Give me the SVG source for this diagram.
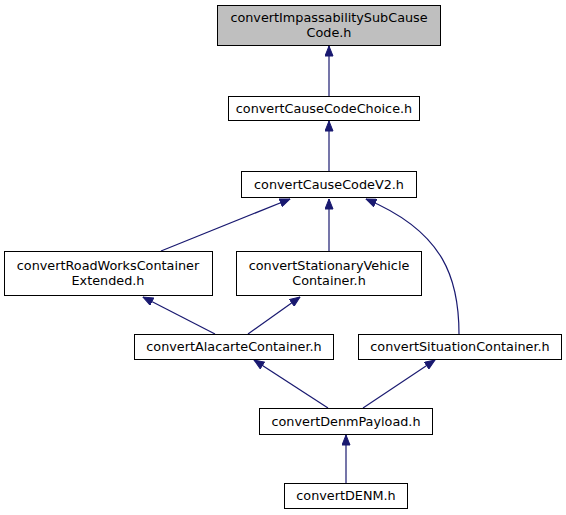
<svg xmlns="http://www.w3.org/2000/svg" width="566" height="515" viewBox="0 0 566 515">
<style>
.n rect{fill:#ffffff;stroke:#000000;stroke-width:1}
.n.h rect{fill:#bfbfbf}
.n text{font-family:"DejaVu Sans","Noto Sans",sans-serif;font-size:12.8px;fill:#000000;text-anchor:middle}
.e path{fill:none;stroke:#191970;stroke-width:1.2;marker-end:url(#ah)}
</style>
<defs>
<marker id="ah" markerUnits="userSpaceOnUse" viewBox="0 0 11 9" refX="10.5" refY="4.5" markerWidth="11" markerHeight="9" orient="auto">
<path d="M0.5,0.5 L10.5,4.5 L0.5,8.5 z" fill="#191970" stroke="#191970" stroke-width="1"/>
</marker>
</defs>
<rect width="566" height="515" fill="#ffffff"/>
<g id="edges" class="e">
<path d="M329,96 L329,46"/>
<path d="M329,171 L329,121"/>
<path d="M161,251 L290,199"/>
<path d="M329,251 L329,199"/>
<path d="M459,334 C459,280 445,232 366,199"/>
<path d="M215,334 L143,297"/>
<path d="M248,334 L300,297"/>
<path d="M328,408 L254,360"/>
<path d="M363,408 L435,360"/>
<path d="M346,483 L346,435"/>
</g>
<g id="node1" class="n h"><rect x="217.5" y="5.5" width="223" height="40"/><text x="329" y="22">convertImpassabilitySubCause</text><text x="329" y="37">Code.h</text></g>
<g id="node2" class="n"><rect x="228.5" y="96.5" width="191" height="24"/><text x="324" y="113">convertCauseCodeChoice.h</text></g>
<g id="node3" class="n"><rect x="241.5" y="171.5" width="175" height="26"/><text x="329" y="189">convertCauseCodeV2.h</text></g>
<g id="node4" class="n"><rect x="4.5" y="251.5" width="208" height="44"/><text x="108" y="270">convertRoadWorksContainer</text><text x="108" y="285">Extended.h</text></g>
<g id="node5" class="n"><rect x="236.5" y="251.5" width="185" height="44"/><text x="329" y="270">convertStationaryVehicle</text><text x="329" y="285">Container.h</text></g>
<g id="node6" class="n"><rect x="134.5" y="334.5" width="199" height="25"/><text x="234" y="351">convertAlacarteContainer.h</text></g>
<g id="node7" class="n"><rect x="358.5" y="334.5" width="203" height="25"/><text x="460" y="351">convertSituationContainer.h</text></g>
<g id="node8" class="n"><rect x="259.5" y="408.5" width="173" height="26"/><text x="346" y="426">convertDenmPayload.h</text></g>
<g id="node9" class="n"><rect x="284.5" y="483.5" width="123" height="25"/><text x="346" y="500">convertDENM.h</text></g>
</svg>
